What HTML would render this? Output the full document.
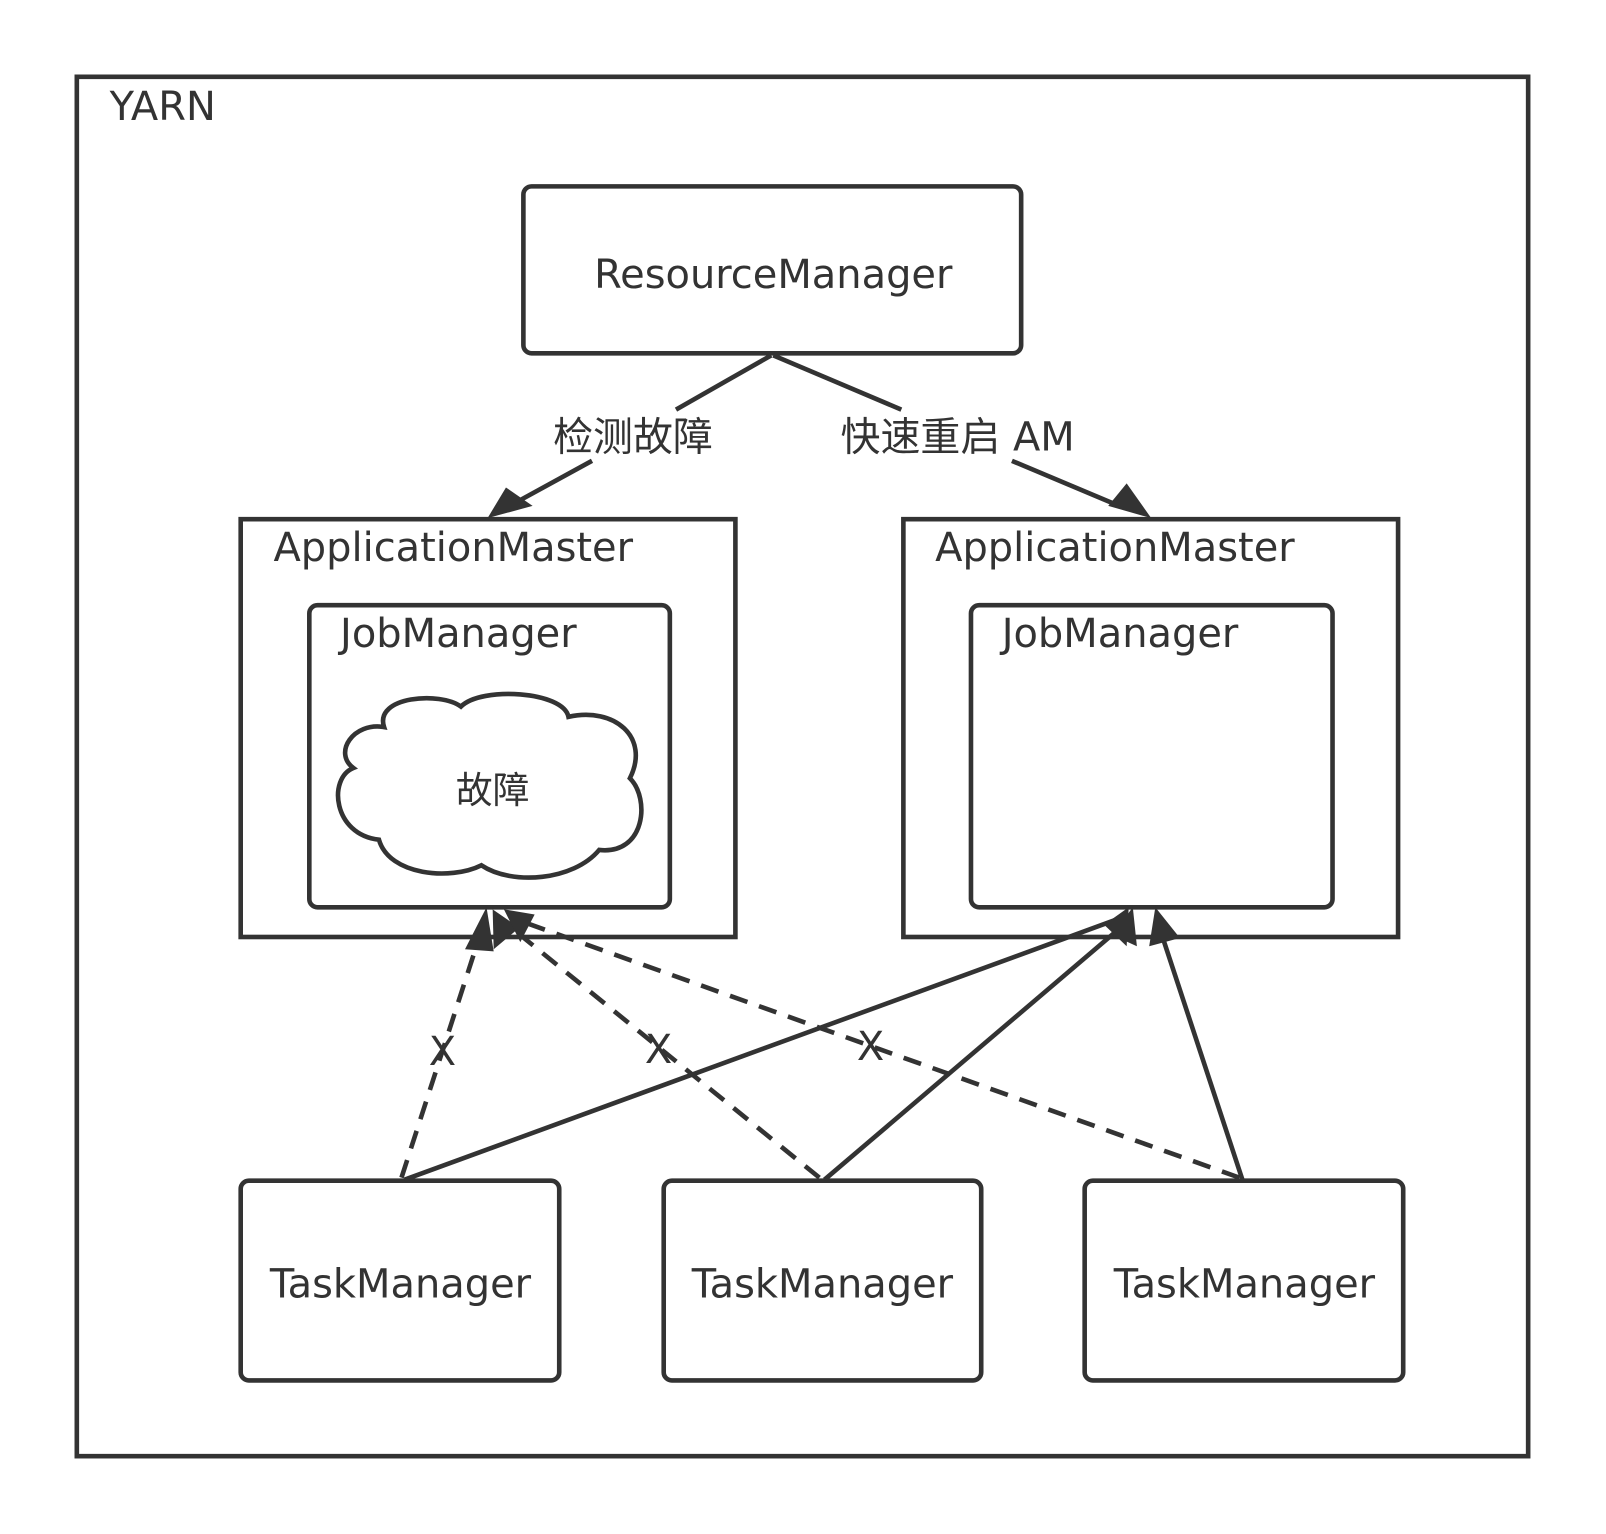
<!DOCTYPE html>
<html><head><meta charset="utf-8"><style>html,body{margin:0;padding:0;background:#fff}svg{display:block}</style></head>
<body>
<svg width="1606" height="1534" viewBox="0 0 1568 1498" preserveAspectRatio="none" xmlns="http://www.w3.org/2000/svg" font-family="'DejaVu Sans','Noto Sans CJK SC',sans-serif" fill="#333">
<g stroke="#333" stroke-width="4.5" fill="none">
<rect x="75" y="75" width="1417" height="1347"/>
<rect x="511" y="182" width="486" height="163" rx="8"/>
<rect x="235" y="507" width="483" height="408"/>
<rect x="302" y="591" width="352" height="295" rx="8"/>
<rect x="882" y="507" width="483" height="408"/>
<rect x="948" y="591" width="353" height="295" rx="8"/>
<rect x="235" y="1153" width="311" height="195" rx="8"/>
<rect x="648" y="1153" width="310" height="195" rx="8"/>
<rect x="1059" y="1153" width="311" height="195" rx="8"/>
<path d="M375,710 C365,680 430,675 450,690 C470,670 550,675 555,700 C600,690 635,720 615,760 C635,780 630,835 585,830 C560,860 500,865 470,845 C440,860 380,855 370,820 C325,815 320,760 345,750 C325,735 345,705 375,710 Z" fill="#fff"/>
<line x1="753" y1="347" x2="660" y2="400"/>
<line x1="578" y1="450" x2="505" y2="490"/>
<line x1="755" y1="347" x2="880" y2="400"/>
<line x1="988" y1="450" x2="1095" y2="495"/>
<g stroke-dasharray="18,12">
<line x1="392" y1="1150" x2="468" y2="915"/>
<line x1="800" y1="1150" x2="498" y2="905"/>
<line x1="1210" y1="1150" x2="510" y2="900"/>
</g>
<line x1="395" y1="1152" x2="1090" y2="898"/>
<line x1="805" y1="1152" x2="1095" y2="905"/>
<line x1="1213" y1="1152" x2="1135" y2="915"/>
</g>
<g fill="#333" stroke="none">
<polygon points="476,506 494,476 520,494"/>
<polygon points="1124,506 1082,494 1100,472"/>
<polygon points="475,886 454,927 482,929"/>
<polygon points="481,888 482,927 507,906"/>
<polygon points="492,888 508,920 522,893"/>
<polygon points="1102,886 1078,903 1100,924"/>
<polygon points="1106,886 1086,913 1110,924"/>
<polygon points="1128,886 1122,924 1152,916"/>
</g>
<g font-size="39">
<text x="107" y="117">YARN</text>
<text x="755" y="281" text-anchor="middle">ResourceManager</text>
<text x="267" y="548">ApplicationMaster</text>
<text x="913" y="548">ApplicationMaster</text>
<text x="332" y="632">JobManager</text>
<text x="978" y="632">JobManager</text>
<text x="391" y="1267" text-anchor="middle">TaskManager</text>
<text x="803" y="1267" text-anchor="middle">TaskManager</text>
<text x="1215" y="1267" text-anchor="middle">TaskManager</text>
<text x="618" y="440" text-anchor="middle">检测故障</text>
<text x="935" y="440" text-anchor="middle">快速重启 AM</text>
<text x="481" y="784" text-anchor="middle" font-size="36">故障</text>
<text x="432" y="1040" text-anchor="middle">X</text>
<text x="643" y="1038" text-anchor="middle">X</text>
<text x="850" y="1035" text-anchor="middle">X</text>
</g>
</svg>
</body></html>
